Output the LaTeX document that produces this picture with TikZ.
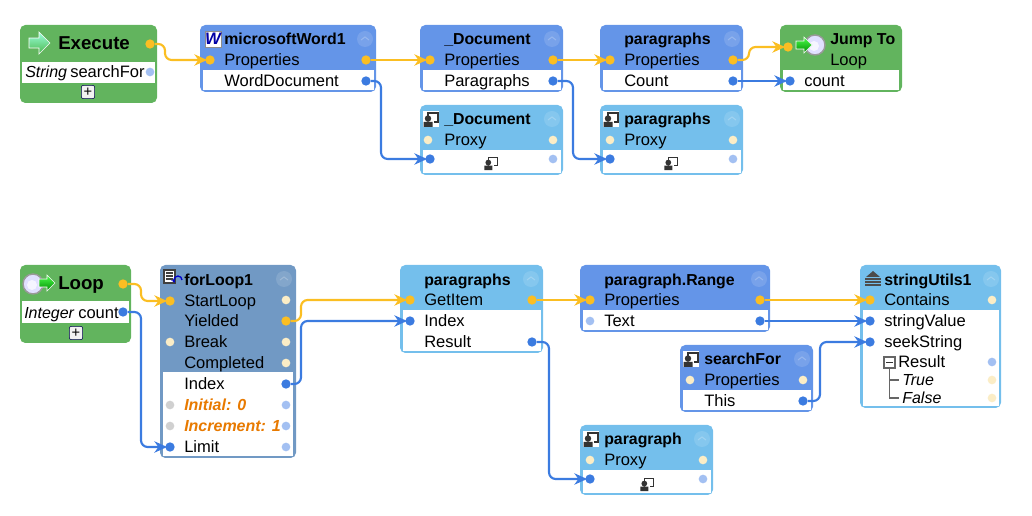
\documentclass[tikz,border=0pt]{standalone}
\usepackage{fontspec}
\setmainfont{Liberation Sans}
\usetikzlibrary{arrows.meta}
\definecolor{flowgreen}{HTML}{62B45E}
\definecolor{methodblue}{HTML}{6495E8}
\definecolor{proxyblue}{HTML}{74BFEC}
\definecolor{loopsteel}{HTML}{7199C4}
\definecolor{execyellow}{HTML}{FBBE22}
\definecolor{datablue}{HTML}{3B7BE0}
\definecolor{palecream}{HTML}{FBEDC6}
\definecolor{paleblue}{HTML}{A3C0F2}
\definecolor{idlegray}{HTML}{D0D0D0}
\definecolor{initorange}{HTML}{E87A00}

\begin{document}
\begin{tikzpicture}[x=0.75pt, y=-0.75pt,
port/.style={circle, inner sep=0pt, minimum size=7pt},
execport/.style={port, fill=execyellow},
dataport/.style={port, fill=datablue},
idleport/.style={port, fill=palecream, minimum size=6.5pt},
freeport/.style={port, fill=paleblue, minimum size=6.5pt},
grayport/.style={port, fill=idlegray, minimum size=6.5pt},
execwire/.style={draw=execyellow, line width=1.6pt, rounded corners=5pt, shorten >=-1.5pt, -{Stealth[length=9.5pt, width=8.5pt, inset=3pt]}},
datawire/.style={draw=datablue, line width=1.6pt, rounded corners=5pt, shorten >=-1.5pt, -{Stealth[length=9.5pt, width=8.5pt, inset=3pt]}},
lbl/.style={anchor=base west, yshift=-4.5pt, inner sep=0pt, font=\fontsize{12.4pt}{14pt}\selectfont},
ttl/.style={lbl, font=\fontsize{11.9pt}{14pt}\selectfont\bfseries},
bigttl/.style={lbl, yshift=-.5pt, font=\fontsize{14pt}{16pt}\selectfont\bfseries},
ital/.style={lbl, font=\fontsize{12pt}{14pt}\selectfont\itshape},
orng/.style={lbl, text=initorange, font=\fontsize{12pt}{14pt}\selectfont\bfseries\itshape},
plusbtn/.style={draw=black!70!blue, fill=black!5, rounded corners=1.5pt, inner sep=0pt, minimum size=10pt, font=\fontsize{11pt}{11pt}\selectfont},
proxyicon/.pic={
  \fill[white] (-8,-8) rectangle (8,8);
  \draw[black!80, line width=1.2pt] (-3,-2) -- (-3,-6) -- (7,-6) -- (7,3) -- (3,3);
  \fill[black!80] (-3,-.5) circle (3.2) (-7.5,3) rectangle (1.5,8);},
goarrow/.pic={
  \fill[draw=white, top color=green!70, bottom color=green!55!black, line width=.4pt] (-8,-4) -- (0,-4) -- (0,-8) -- (8,0) -- (0,8) -- (0,4) -- (-8,4) -- cycle;},
execarrow/.pic={
  \fill[draw=white, top color=green!35!cyan!40, bottom color=green!60!black!70, line width=.5pt] (-10,-5) -- (0,-5) -- (0,-11) -- (11,0) -- (0,11) -- (0,5) -- (-10,5) -- cycle;},
clockface/.pic={
  \draw[black!40, line width=1.1pt, fill=blue!12] (0,0) circle (10);
  \fill[white, opacity=.7] (-1,1) circle (5);},
collapse/.pic={
  \fill[white, opacity=.13] (0,0) circle (8);
  \draw[white, opacity=.22, line width=.8pt] (-4,1) -- (0,-2) -- (4,1);}
]

\useasboundingbox (0,0) rectangle (1032,516);

% block bodies
\foreach \xa/\ya/\xb/\yb/\col in {20/25/157/103/flowgreen, 200/25/376/92/methodblue, 420/25/563/92/methodblue,
  420/105/563/175/proxyblue, 600/25/743/92/methodblue, 600/105/743/175/proxyblue, 780/25/902/92/flowgreen,
  20/265/131/343/flowgreen, 160/265/296/458/loopsteel, 400/265/543/353/proxyblue, 580/265/770/332/methodblue,
  680/345/813/412/methodblue, 580/425/713/495/proxyblue, 860/265/1001/408/proxyblue}
  \fill[\col, rounded corners=4pt] (\xa,\ya) rectangle (\xb,\yb);
\foreach \xa/\ya/\xb/\yb in {203/70/374/90, 423/70/561/90, 423/150/561/173, 603/70/741/90, 603/150/741/173, 783/70/899/90,
  163/372/293/456, 403/310/541/351, 583/310/768/330, 683/390/811/410, 583/470/711/493, 863/310/999/406,
  22/62/155/83, 22/301/129/323}
  \fill[white] (\xa,\ya) rectangle (\xb,\yb);

% collapse buttons
\foreach \x/\y in {365/39, 552/39, 552/119, 732/39, 732/119, 284/279, 531/279, 759/279, 802/359, 702/439, 991/279}
  \pic at (\x,\y) {collapse};

% icons
\pic at (39,43) {execarrow};
\pic at (815,45) {clockface};
\pic at (804,45) {goarrow};
\pic at (33,284) {clockface};
\pic at (47,283) {goarrow};
\foreach \x/\y in {431/119, 611/119, 691/359, 591/439}
  \pic at (\x,\y) {proxyicon};
\foreach \x/\y in {491/163, 671/163, 647/484}
  \pic[scale=.9] at (\x,\y) {proxyicon};
\node[draw=black!45, fill=white, inner sep=0pt, minimum size=12pt, text=blue!65!black, font=\fontsize{12.5pt}{12pt}\selectfont\bfseries\itshape] (wordicon) at (213,39) {W};
\draw[black!75, fill=white, line width=.8pt] (164,270) rectangle (175,283);
\draw[black!75, line width=.8pt] (166,273) -- (173,273) (166,276) -- (173,276) (166,279) -- (173,279);
\draw[blue!80!black, line width=1pt, -{Stealth[length=3pt]}] (182,280) arc (0:-220:4);
\fill[black!70] (866,277) -- (873,271) -- (880,277) -- cycle;
\draw[black!70, line width=1pt] (865,279) -- (881,279) (865,282) -- (881,282) (865,285) -- (881,285);

% plus buttons
\node[plusbtn] (plusexec) at (88,92) {+};
\node[plusbtn] (plusloop) at (76,333) {+};

% titles
\foreach \n/\x/\y/\txt in {tword/224/39/microsoftWord1, tdoc/444/39/\_Document, tdocp/444/119/\_Document, tpar/624/39/paragraphs,
  tparp/624/119/paragraphs, tjump/830/39/Jump To, tfor/184/280/forLoop1, titem/424/280/paragraphs, trange/604/280/paragraph.Range,
  tsearch/704/359/searchFor, tpara/604/439/paragraph, tutil/884/280/stringUtils1}
  \node[ttl] (\n) at (\x,\y) {\txt};
\node[bigttl] (texec) at (58,43) {Execute};
\node[bigttl] (tloop) at (58,283) {Loop};

% row labels
\foreach \n/\x/\y/\txt in {lsearch/70/72/searchFor, lwprop/224/60/Properties, lwdoc/224/81/WordDocument, ldprop/444/60/Properties, ldpar/444/81/Paragraphs,
  ldprox/444/140/Proxy, lpprop/624/60/Properties, lpcount/624/81/Count, lpprox/624/140/Proxy, ljump/830/60/Loop, ljcount/804/81/count,
  lcount/78/313/count, lstart/184/301/StartLoop, lyield/184/321/Yielded, lbreak/184/342/Break, lcompl/184/363/Completed, lindex/184/384/Index, llimit/184/447/Limit,
  lget/424/300/GetItem, liidx/424/321/Index, lres/424/342/Result, lrprop/604/300/Properties, lrtext/604/321/Text,
  lsprop/704/380/Properties, lsthis/704/401/This, lprox/604/460/Proxy, lcont/884/300/Contains, lsval/884/321/stringValue, lseek/884/342/seekString, lresult/898/362/Result}
  \node[lbl] (\n) at (\x,\y) {\txt};
\foreach \n/\x/\y/\txt in {lstring/25/72/String, linteger/24/313/Integer, ltrue/902/380/True, lfalse/902/398/False}
  \node[ital] (\n) at (\x,\y) {\txt};
\node[orng] (linit) at (184,405) {Initial: 0};
\node[orng] (lincr) at (184,426) {Increment: 1};

% result tree
\draw[black!60, line width=.8pt] (889.5,368) -- (889.5,398) -- (899,398) (889.5,380) -- (899,380);
\draw[black!60, fill=white, line width=.8pt] (884,357) rectangle (895,368);
\draw[black!80, line width=.8pt] (886,362.5) -- (893,362.5);

% ports
\foreach \n/\x/\y in {pexec/150/44, pwin/210/60, pwout/366/60, pdin/430/60, pdout/553/60, ppin/610/60, ppout/733/60, pjin/788/47,
  ploop/123/284, pfin/170/301, pfyield/286/321, pgin/410/300, pgout/532/300, prin/590/300, prout/760/300, puin/870/300}
  \node[execport] (\n) at (\x,\y) {};
\foreach \n/\x/\y in {pwdoc/366/81, pdpars/553/81, ppcount/733/81, pjcount/790/81, pdproxy/430/159, ppproxy/610/159,
  pcount/123/312, pfidx/286/384, pflimit/170/447, pgidx/410/321, pgres/532/342, prtext/760/321, psthis/803/401, paproxy/590/479, puval/870/321, puseek/870/342}
  \node[dataport] (\n) at (\x,\y) {};
\foreach \n/\x/\y in {i1/428/140, i2/553/140, i3/610/140, i4/733/140, i5/286/300, i6/170/342, i7/286/342, i8/286/363, i9/690/380, i10/803/380, i11/590/460, i12/703/460, i13/992/300, i14/992/380, i15/992/398}
  \node[idleport] (\n) at (\x,\y) {};
\foreach \n/\x/\y in {f1/150/72, f2/553/159, f3/733/159, f4/286/405, f5/286/426, f6/286/447, f7/590/321, f8/703/479, f9/992/362}
  \node[freeport] (\n) at (\x,\y) {};
\node[grayport] (g1) at (170,405) {};
\node[grayport] (g2) at (170,426) {};

% connectors
\draw[execwire] (pexec) -- ++(15,0) |- (pwin);
\draw[execwire] (pwout) -- (pdin);
\draw[execwire] (pdout) -- (ppin);
\draw[execwire] (ppout) -- ++(16,0) |- (pjin);
\draw[datawire] (pwdoc) -- ++(15,0) |- (pdproxy);
\draw[datawire] (pdpars) -- ++(20,0) |- (ppproxy);
\draw[datawire] (ppcount) -- (pjcount);
\draw[execwire] (ploop) -- ++(18,0) |- (pfin);
\draw[datawire] (pcount) -- ++(18,0) |- (pflimit);
\draw[execwire] (pfyield) -- ++(15,0) |- (pgin);
\draw[datawire] (pfidx) -- ++(15,0) |- (pgidx);
\draw[execwire] (pgout) -- (prin);
\draw[execwire] (prout) -- (puin);
\draw[datawire] (prtext) -- (puval);
\draw[datawire] (psthis) -- ++(17,0) |- (puseek);
\draw[datawire] (pgres) -- ++(17,0) |- (paproxy);
\end{tikzpicture}
\end{document}
